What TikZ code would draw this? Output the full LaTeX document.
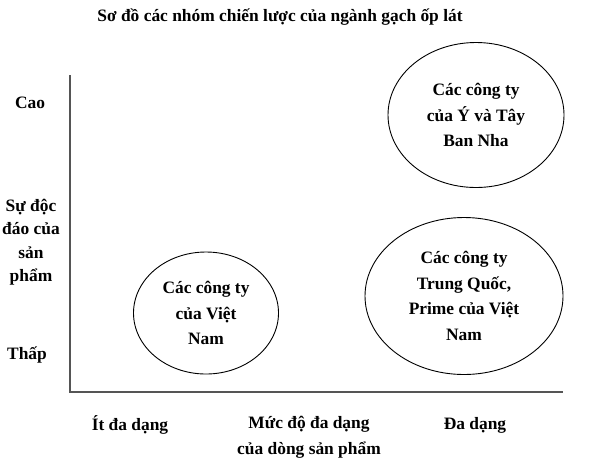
\documentclass[tikz,border=0pt]{standalone}
\usepackage{fontspec}
\setmainfont{Liberation Serif}
\usepackage{tikz}
\usetikzlibrary{shapes.geometric, positioning}
\definecolor{cAxis}{RGB}{85,85,85}
\tikzset{
	lbl/.style   ={align=center, inner sep=0pt, font=\fontsize{17.4}{24.5}\selectfont\bfseries},
	grp/.style   ={ellipse, draw=black, line width=0.9pt, align=center, inner sep=0pt, font=\fontsize{17.4}{25.5}\selectfont\bfseries},
	axis/.style  ={draw=cAxis, line width=1.8pt},
}
\begin{document}
\begin{tikzpicture}[x=1pt, y=-1pt]
	\useasboundingbox (0,0) rectangle (604,472);
	% title
	\node[lbl] (title) at (280,17) {Sơ đồ các nhóm chiến lược của ngành gạch ốp lát};
	% axes
	\coordinate (ytop) at (70,75);
	\coordinate (orig) at (70,392);
	\coordinate (xend) at (563,392);
	\draw[axis] (ytop) -- (orig) -- (xend);
	% vertical axis labels
	\node[lbl] (hi) at (30,103) {Cao};
	\node[lbl, font=\fontsize{17.4}{23.5}\selectfont\bfseries] (ylab) at (31,242) {Sự độc\\đáo của\\sản\\phẩm};
	\node[lbl] (lo) at (27,355) {Thấp};
	% horizontal axis labels
	\node[lbl] (few) at (130,425) {Ít đa dạng};
	\node[lbl, font=\fontsize{17.4}{26}\selectfont\bfseries, anchor=north] (xlab) at (309,416) {Mức độ đa dạng\\của dòng sản phẩm};
	\node[lbl] (many) at (475,425) {Đa dạng};
	% strategic groups
	\node[grp, minimum width=176pt, minimum height=145pt] (eu) at (476,115) {Các công ty\\của Ý và Tây\\Ban Nha};
	\node[grp, minimum width=198pt, minimum height=157pt] (cn) at (464,296) {Các công ty\\Trung Quốc,\\Prime của Việt\\Nam};
	\node[grp, minimum width=145pt, minimum height=122pt] (vn) at (206,313) {Các công ty\\của Việt\\Nam};
\end{tikzpicture}
\end{document}
